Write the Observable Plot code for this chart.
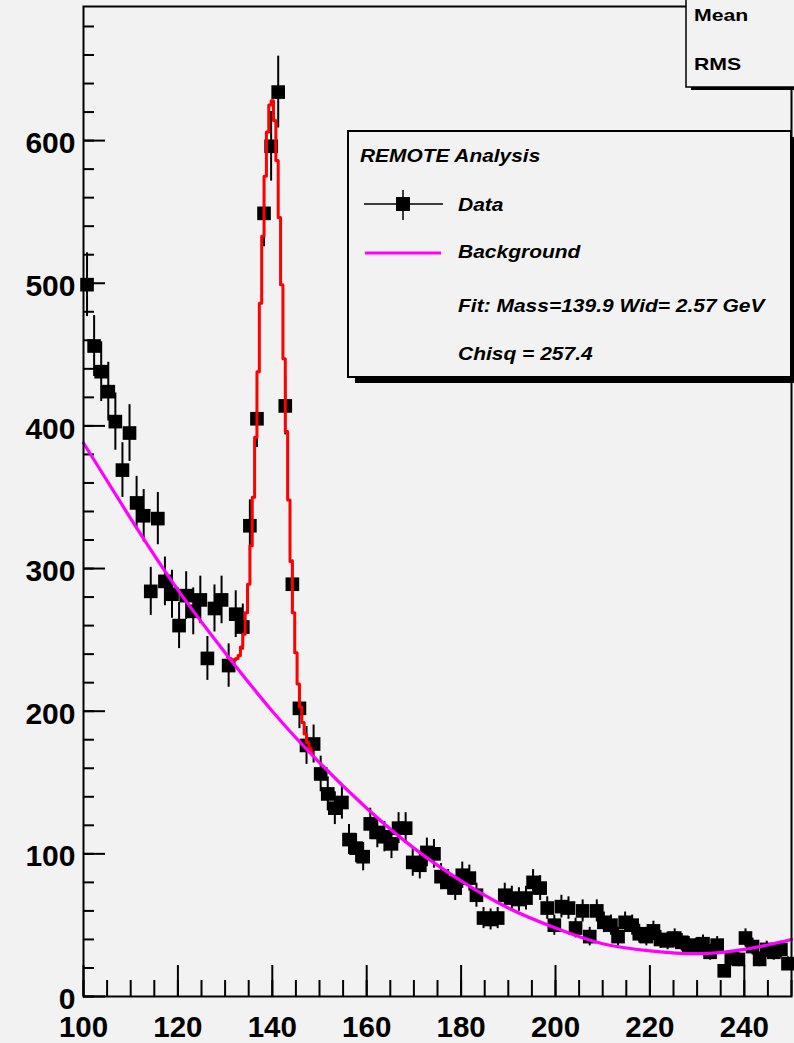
<!DOCTYPE html>
<html>
<head>
<meta charset="utf-8">
<script src="https://cdn.jsdelivr.net/npm/d3@7"></script>
<script src="https://cdn.jsdelivr.net/npm/@observablehq/plot@0.6"></script>
<style>
  html, body { margin: 0; padding: 0; background: #f2f2f2; }
  #wrap { position: relative; width: 794px; height: 1043px; overflow: hidden; }
  #overlay { position: absolute; left: 0; top: 0; pointer-events: none; }
</style>
</head>
<body>
<div id="wrap"></div>
<script>
// ---------------- data ----------------
const binLow = 100, binWidth = 1.5;
const counts = [
  499, 456, 438, 424, 403, 369, 395, 346, 337, 284,
  335, 291, 282, 260, 281, 270, 278, 237, 272, 278,
  232, 268, 259, 330, 405, 549, 596, 634, 414, 289,
  202, 176, 177, 156, 142, 132, 136, 110, 104, 98,
  121, 115, 112, 107, 118, 118, 94, 92, 101, 100,
  84, 80, 76, 85, 83, 71, 55, 54, 55, 71,
  69, 68, 69, 80, 76, 62, 50, 63, 62, 48,
  60, 42, 60, 52, 50, 42, 52, 50, 44, 42,
  46, 40, 39, 41, 38, 36, 35, 37, 31, 36,
  18, 27, 26, 41, 35, 26, 33, 31, 33, 23
];
// fit (signal + background)
const fitX = [130.5,131,131.5,132,132.5,133,133.5,134,134.5,135,135.5,136,136.5,137,137.5,138,138.5,139,139.5,140,140.5,141,141.5,142,142.5,143,143.5,144,144.5,145,145.5,146,146.5,147,147.5,148,148.5];
const fitY = [238,237,236,236,237,239,245,254,269,289,316,350,392,438,486,533,575,606,625,628,614,586,546,499,447,396,348,305,269,241,219,203,192,184,178,174,171];
// background
const bgX = [100,110,120,130,140,150,160,170,180,190,200,210,220,230,240,250];
const bgY = [388,335,285,241,200,164,132,104,81,62,48,37,32,30,33,40];
// axis ticks
const xMajor = [100,120,140,160,180,200,220,240];
const yMajor = [0,100,200,300,400,500,600];
const xMinor = d3.range(100, 251, 5);
const yMinor = d3.range(0, 681, 20);
// texts
const legendTitle = "REMOTE Analysis";
const legendData = "Data";
const legendBg = "Background";
const fitText = "Fit: Mass=139.9 Wid= 2.57 GeV";
const chiText = "Chisq = 257.4";
const statLabels = ["Mean", "RMS"];

// ---------------- build ----------------
const points = counts.map((c, i) => ({x: binLow + binWidth * (i + 0.5), y: c, e: Math.sqrt(c)}));
const fit = fitX.map((x, i) => ({x, y: fitY[i]}));
const bg = bgX.map((x, i) => ({x, y: bgY[i]}));

const W = 794, H = 1043, mL = 83, mR = 3, mT = 6, mB = 47;
const plotW = W - mL - mR, plotH = H - mT - mB;
const font = "'Liberation Sans', Arial, Helvetica, sans-serif";

const chart = Plot.plot({
  width: W, height: H,
  marginLeft: mL, marginRight: mR, marginTop: mT, marginBottom: mB,
  x: {domain: [100, 250]},
  y: {domain: [0, 694]},
  style: {background: "transparent", fontFamily: font, overflow: "visible"},
  marks: [
    Plot.ruleX(xMinor, {strokeWidth: 2, insetTop: plotH - 16}),
    Plot.ruleX(xMajor, {strokeWidth: 2, insetTop: plotH - 31}),
    Plot.ruleY(yMinor, {strokeWidth: 2, insetRight: plotW - 11}),
    Plot.ruleY(yMajor, {strokeWidth: 2, insetRight: plotW - 22}),
    Plot.axisX({ticks: xMajor, tickSize: 0, tickPadding: 19.5, fontSize: 29.5, fontWeight: "bold", tickFormat: d => String(d), label: null}),
    Plot.axisY({ticks: yMajor, tickSize: 0, tickPadding: 8, fontSize: 30, fontWeight: "bold", dy: 3, tickFormat: d => String(d), label: null}),
    Plot.ruleX(points, {x: "x", y1: d => d.y - d.e, y2: d => d.y + d.e, stroke: "black", strokeWidth: 2}),
    Plot.dot(points, {x: "x", y: "y", symbol: "square", r: 7.7, fill: "black", stroke: "none"}),
    Plot.line(fit, {x: "x", y: "y", curve: "step", stroke: "#ff0000", strokeWidth: 3}),
    Plot.line(bg, {x: "x", y: "y", curve: "natural", stroke: "#ff00ff", strokeWidth: 3.2}),
    Plot.frame({stroke: "black", strokeWidth: 2})
  ]
});
document.getElementById("wrap").appendChild(chart);

// ---------------- legend & stats box overlay ----------------
const ov = d3.select("#wrap").append("svg")
  .attr("id", "overlay").attr("width", W).attr("height", H)
  .style("font-family", font);

// stats box (top-right)
ov.append("rect").attr("x", 691).attr("y", 2).attr("width", 120).attr("height", 88).attr("fill", "black");
ov.append("rect").attr("x", 686).attr("y", -2).attr("width", 120).attr("height", 89)
  .attr("fill", "#f2f2f2").attr("stroke", "black").attr("stroke-width", 1.5);
[[statLabels[0], 20.5], [statLabels[1], 70]].forEach(([t, y]) => {
  ov.append("text").attr("transform", `translate(694,${y}) scale(1.25,1)`)
    .attr("font-size", 17).attr("font-weight", "bold").text(t);
});

// legend box
ov.append("rect").attr("x", 355).attr("y", 137).attr("width", 443).attr("height", 246).attr("fill", "black");
ov.append("rect").attr("x", 348).attr("y", 131).attr("width", 443).attr("height", 246)
  .attr("fill", "#f2f2f2").attr("stroke", "black").attr("stroke-width", 2);

ov.append("text").attr("transform", "translate(360,162) scale(1.13,1)")
  .attr("font-size", 18.5).attr("font-weight", "bold").attr("font-style", "italic").text(legendTitle);

// data entry symbol
ov.append("line").attr("x1", 364).attr("x2", 443).attr("y1", 204).attr("y2", 204).attr("stroke", "black").attr("stroke-width", 1.5);
ov.append("line").attr("x1", 403).attr("x2", 403).attr("y1", 190).attr("y2", 220).attr("stroke", "black").attr("stroke-width", 1.5);
ov.append("rect").attr("x", 396).attr("y", 197).attr("width", 14).attr("height", 14).attr("fill", "black");
// background entry symbol
ov.append("line").attr("x1", 365).attr("x2", 441).attr("y1", 253).attr("y2", 253).attr("stroke", "#ff00ff").attr("stroke-width", 3);

[[legendData, 211], [legendBg, 258], [fitText, 312], [chiText, 360]].forEach(([t, y]) => {
  ov.append("text").attr("transform", `translate(458,${y}) scale(1.2,1)`)
    .attr("font-size", 17.5).attr("font-weight", "bold").attr("font-style", "italic").text(t);
});
</script>
</body>
</html>
